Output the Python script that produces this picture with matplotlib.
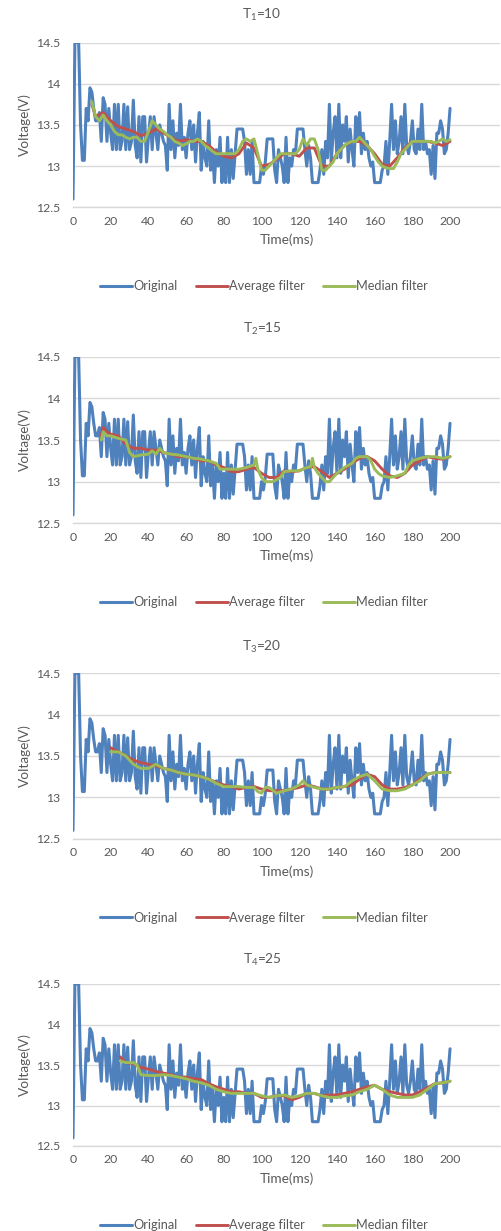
import matplotlib
matplotlib.use("Agg")
import matplotlib.pyplot as plt

plt.rcParams['font.family'] = ['Lato', 'DejaVu Sans']
plt.rcParams['mathtext.default'] = 'regular'

# ---------------- data ----------------
time_ms = list(range(201))
original = [
    12.60, 14.50, 14.50, 14.50, 13.50, 13.07, 13.07, 13.70, 13.55, 13.95,
    13.90, 13.70, 13.55, 13.55, 13.65, 13.30, 13.83, 13.75, 13.30, 13.70,
    13.40, 13.20, 13.75, 13.20, 13.75, 13.20, 13.30, 13.75, 13.20, 13.72,
    13.20, 13.30, 13.80, 13.25, 13.10, 13.60, 13.05, 13.60, 13.60, 13.05,
    13.35, 13.60, 13.20, 13.60, 13.40, 13.20, 13.50, 13.40, 13.30, 13.25,
    12.95, 13.75, 13.20, 13.55, 13.10, 13.40, 13.25, 13.75, 13.20, 13.35,
    13.10, 13.40, 13.55, 13.20, 13.50, 13.05, 13.40, 13.65, 12.95, 13.30,
    13.10, 13.00, 13.55, 12.95, 13.20, 12.80, 13.20, 13.00, 13.35, 12.80,
    13.10, 12.80, 13.35, 12.80, 13.20, 12.85, 13.15, 13.45, 13.45, 13.45,
    13.45, 13.30, 12.90, 13.20, 12.90, 13.30, 12.80, 12.80, 12.80, 12.80,
    13.00, 12.90, 13.05, 13.33, 13.33, 13.33, 13.33, 12.95, 12.80, 13.20,
    13.10, 13.00, 12.80, 13.35, 12.80, 13.10, 13.00, 13.20, 13.15, 13.45,
    13.45, 13.45, 13.45, 13.20, 13.00, 13.25, 13.10, 12.80, 12.80, 12.80,
    12.80, 12.95, 13.20, 12.90, 13.30, 13.10, 13.75, 13.05, 13.40, 13.60,
    13.10, 13.75, 13.10, 13.50, 13.30, 13.60, 13.05, 13.45, 13.20, 13.00,
    13.60, 13.30, 13.65, 13.15, 13.40, 13.20, 13.30, 13.10, 13.00, 13.05,
    12.80, 12.80, 12.80, 12.80, 12.95, 13.00, 13.30, 12.90, 13.30, 13.75,
    13.20, 13.55, 13.15, 13.30, 13.60, 13.15, 13.75, 13.25, 13.15, 13.30,
    13.55, 13.20, 13.15, 13.45, 13.20, 13.75, 13.20, 13.30, 13.15, 13.20,
    12.90, 13.25, 12.85, 13.40, 13.40, 13.55, 13.45, 13.15, 13.20, 13.40,
    13.70,
]

titles = ['T$_1$=10', 'T$_2$=15', 'T$_3$=20', 'T$_4$=25']
x_ticks = [0, 20, 40, 60, 80, 100, 120, 140, 160, 180, 200]
y_ticks = [12.5, 13, 13.5, 14, 14.5]
series_names = ['Original', 'Average filter', 'Median filter']

# Panel 1 (T1=10)
avg1_t = [10, 12, 16, 18, 20, 24, 28, 32, 36, 40, 44, 48, 52, 56, 60, 64, 68, 72, 76, 80,
          84, 88, 92, 96, 100, 104, 108, 112, 116, 120, 124, 128, 132, 136, 140, 144, 148,
          152, 156, 160, 164, 168, 172, 176, 180, 184, 188, 192, 196, 200]
avg1_v = [13.75, 13.60, 13.65, 13.60, 13.55, 13.48, 13.45, 13.42, 13.37, 13.40, 13.45, 13.40,
          13.35, 13.30, 13.32, 13.30, 13.30, 13.25, 13.17, 13.12, 13.10, 13.15, 13.28, 13.22,
          13.00, 13.02, 13.08, 13.15, 13.15, 13.12, 13.22, 13.22, 13.00, 13.00, 13.15, 13.25,
          13.30, 13.30, 13.25, 13.15, 13.02, 13.00, 13.10, 13.22, 13.30, 13.30, 13.30, 13.28,
          13.25, 13.30]
med1_t = list(range(10, 201, 2))
med1_v = [13.78, 13.60, 13.55, 13.62, 13.55, 13.50, 13.42, 13.38, 13.38, 13.35, 13.33, 13.35,
          13.35, 13.30, 13.30, 13.42, 13.55, 13.50, 13.45, 13.42, 13.38, 13.35, 13.30, 13.28,
          13.25, 13.27, 13.30, 13.30, 13.33, 13.30, 13.25, 13.22, 13.18, 13.15, 13.15, 13.15,
          13.15, 13.15, 13.15, 13.20, 13.30, 13.33, 13.30, 13.33, 13.15, 12.95, 12.95, 13.00,
          13.05, 13.10, 13.15, 13.15, 13.15, 13.15, 13.15, 13.20, 13.33, 13.25, 13.33, 13.33,
          13.20, 12.95, 12.95, 13.00, 13.05, 13.15, 13.20, 13.25, 13.28, 13.30, 13.30, 13.35,
          13.30, 13.25, 13.20, 13.12, 13.05, 13.00, 12.98, 12.97, 12.97, 13.05, 13.15, 13.20,
          13.25, 13.30, 13.30, 13.30, 13.30, 13.30, 13.30, 13.28, 13.30, 13.33, 13.30, 13.32]

# Panel 2 (T2=15)
avg2_t = [15, 16, 18, 20, 24, 28, 32, 36, 40, 44, 48, 52, 56, 60, 64, 68, 72, 76, 80, 84, 88,
          92, 96, 100, 104, 108, 112, 116, 120, 124, 128, 132, 136, 140, 144, 148, 152, 156,
          160, 164, 168, 172, 176, 180, 184, 188, 192, 196, 200]
avg2_v = [13.55, 13.65, 13.60, 13.57, 13.55, 13.45, 13.40, 13.40, 13.38, 13.38, 13.35, 13.33,
          13.30, 13.30, 13.28, 13.25, 13.25, 13.20, 13.17, 13.12, 13.12, 13.15, 13.17, 13.10,
          13.05, 13.05, 13.13, 13.12, 13.13, 13.17, 13.18, 13.12, 13.05, 13.10, 13.15, 13.22,
          13.28, 13.30, 13.25, 13.15, 13.07, 13.05, 13.10, 13.20, 13.25, 13.30, 13.28, 13.27,
          13.30]
med2_t = [15, 16, 18, 20, 24, 28, 30, 32, 36, 40, 42, 44, 46, 48, 52, 56, 60, 64, 68, 72, 76,
          78, 80, 84, 88, 92, 96, 97, 98, 100, 102, 106, 110, 112, 116, 120, 124, 126, 127, 128,
          130, 132, 134, 136, 138, 140, 144, 148, 150, 152, 156, 158, 160, 162, 164, 168, 172,
          176, 178, 180, 184, 188, 192, 196, 200]
med2_v = [13.50, 13.60, 13.55, 13.55, 13.52, 13.50, 13.35, 13.30, 13.32, 13.33, 13.37, 13.33,
          13.40, 13.35, 13.33, 13.32, 13.30, 13.28, 13.27, 13.25, 13.22, 13.15, 13.15, 13.15,
          13.15, 13.17, 13.20, 13.28, 13.15, 13.05, 13.00, 13.00, 13.05, 13.12, 13.13, 13.13,
          13.17, 13.18, 13.28, 13.17, 13.10, 13.05, 13.00, 13.00, 13.05, 13.10, 13.17, 13.22,
          13.28, 13.30, 13.30, 13.25, 13.15, 13.10, 13.07, 13.05, 13.07, 13.10, 13.20, 13.25,
          13.28, 13.30, 13.30, 13.28, 13.30]

# Panel 3 (T3=20)
avg3_t = list(range(20, 201, 4))
avg3_v = [13.60, 13.55, 13.50, 13.45, 13.42, 13.40, 13.38, 13.35, 13.33, 13.30, 13.28, 13.27,
          13.25, 13.22, 13.18, 13.15, 13.13, 13.10, 13.12, 13.13, 13.10, 13.08, 13.08, 13.08,
          13.10, 13.12, 13.15, 13.13, 13.10, 13.10, 13.12, 13.13, 13.15, 13.22, 13.28, 13.25,
          13.15, 13.10, 13.10, 13.12, 13.15, 13.22, 13.28, 13.30, 13.30, 13.30]
med3_t = [20, 24, 28, 32, 36, 40, 44, 48, 52, 56, 60, 64, 68, 72, 76, 80, 84, 88, 92, 96, 98,
          100, 102, 104, 108, 112, 116, 120, 122, 124, 128, 132, 136, 140, 144, 148, 152, 156,
          160, 164, 168, 172, 176, 180, 184, 188, 192, 196, 200]
med3_v = [13.55, 13.55, 13.50, 13.40, 13.35, 13.35, 13.40, 13.35, 13.33, 13.30, 13.28, 13.27,
          13.25, 13.22, 13.17, 13.13, 13.13, 13.13, 13.12, 13.12, 13.07, 13.05, 13.12, 13.12,
          13.05, 13.08, 13.10, 13.15, 13.20, 13.15, 13.12, 13.10, 13.10, 13.12, 13.13, 13.20,
          13.25, 13.28, 13.20, 13.10, 13.08, 13.08, 13.10, 13.15, 13.20, 13.28, 13.30, 13.30,
          13.30]

# Panel 4 (T4=25)
avg4_t = [25, 28, 32, 36, 40, 44, 48, 52, 56, 60, 64, 68, 72, 76, 80, 84, 88, 92, 96, 100,
          104, 108, 112, 116, 120, 124, 128, 132, 136, 140, 144, 148, 152, 156, 160, 164, 168,
          172, 176, 180, 184, 188, 192, 196, 200]
avg4_v = [13.60, 13.53, 13.52, 13.47, 13.45, 13.42, 13.40, 13.38, 13.35, 13.35, 13.33, 13.32,
          13.27, 13.23, 13.20, 13.17, 13.17, 13.15, 13.15, 13.10, 13.10, 13.12, 13.12, 13.07,
          13.10, 13.15, 13.15, 13.12, 13.13, 13.13, 13.15, 13.17, 13.20, 13.23, 13.25, 13.20,
          13.17, 13.15, 13.13, 13.13, 13.17, 13.22, 13.27, 13.28, 13.30]
med4_t = [25, 28, 32, 34, 36, 40, 44, 48, 52, 56, 60, 64, 68, 72, 76, 80, 84, 88, 92, 96, 100,
          104, 108, 112, 116, 120, 124, 128, 132, 136, 140, 144, 148, 152, 156, 160, 164, 168,
          172, 176, 180, 184, 188, 192, 196, 200]
med4_v = [13.55, 13.53, 13.53, 13.50, 13.38, 13.37, 13.37, 13.38, 13.37, 13.35, 13.33, 13.30,
          13.28, 13.25, 13.20, 13.17, 13.15, 13.15, 13.15, 13.15, 13.12, 13.10, 13.12, 13.13,
          13.10, 13.12, 13.15, 13.15, 13.12, 13.10, 13.10, 13.12, 13.13, 13.17, 13.20, 13.25,
          13.20, 13.13, 13.10, 13.10, 13.10, 13.13, 13.20, 13.27, 13.28, 13.30]

avg_t = [avg1_t, avg2_t, avg3_t, avg4_t]
avg_v = [avg1_v, avg2_v, avg3_v, avg4_v]
med_t = [med1_t, med2_t, med3_t, med4_t]
med_v = [med1_v, med2_v, med3_v, med4_v]

# ---------------- style ----------------
W, H = 501, 1231
BLUE, RED, GREEN = '#4F81BD', '#C0504D', '#9BBB59'
TXT = '#595959'
GRID = '#D9D9D9'

tops = [42.5, 356.7, 673.3, 984.0]
bottoms = [207.3, 523.3, 838.7, 1146.0]
title_y = [15, 329, 647, 960]

fig = plt.figure(figsize=(W / 100, H / 100), dpi=100)

for i in range(4):
    ax = fig.add_axes([73 / W, 1 - bottoms[i] / H, (500 - 73) / W, (bottoms[i] - tops[i]) / H])
    kw = dict(solid_joinstyle='round', solid_capstyle='round')
    l1, = ax.plot(time_ms, original, color=BLUE, lw=2.2, zorder=3, **kw)
    l2, = ax.plot(avg_t[i], avg_v[i], color=RED, lw=2.1, zorder=4, **kw)
    l3, = ax.plot(med_t[i], med_v[i], color=GREEN, lw=2.1, zorder=5, **kw)
    ax.set_xlim(0, 226.5)
    ax.set_ylim(12.5, 14.5)
    ax.set_xticks(x_ticks)
    ax.set_yticks(y_ticks)
    ax.set_yticklabels(['12.5', '13', '13.5', '14', '14.5'])
    ax.tick_params(axis='both', length=0, labelsize=8.8, labelcolor=TXT)
    ax.tick_params(axis='x', pad=6)
    ax.tick_params(axis='y', pad=9)
    ax.grid(axis='y', color=GRID, lw=1.0, zorder=0)
    ax.set_axisbelow(True)
    for s in ['top', 'right', 'left']:
        ax.spines[s].set_visible(False)
    ax.spines['bottom'].set_color(GRID)
    ax.spines['bottom'].set_linewidth(1.0)
    ax.set_xlabel('Time(ms)', fontsize=9.8, color=TXT, labelpad=5)
    ax.set_ylabel('Voltage(V)', fontsize=9.8, color=TXT, labelpad=4)
    fig.text(262 / W, 1 - title_y[i] / H, titles[i], ha='center', va='center',
             fontsize=9.8, color=TXT)
    fig.legend([l1, l2, l3], series_names, loc='center',
               bbox_to_anchor=(264 / W, 1 - (bottoms[i] + 79) / H), ncol=3, frameon=False,
               fontsize=9.2, labelcolor=TXT, handlelength=2.5, handletextpad=0.1,
               columnspacing=1.4)

fig.savefig('out.png', dpi=100)
